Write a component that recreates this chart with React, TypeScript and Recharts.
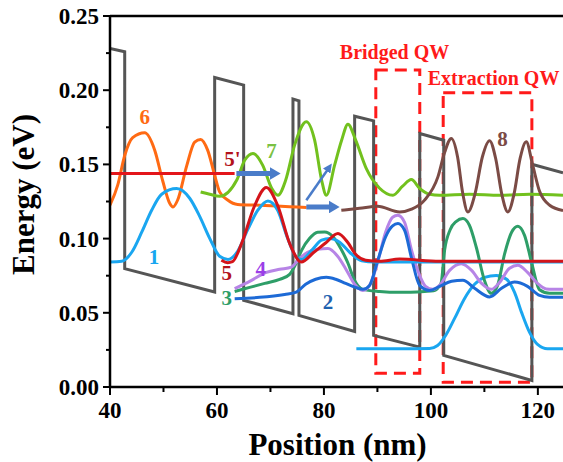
import { LineChart, Line, XAxis, YAxis, ReferenceArea, ReferenceDot, ReferenceLine } from 'recharts';

const FONT = '"Liberation Serif", "Times New Roman", serif';

// axis ticks
const xTicks = [40, 50, 60, 70, 80, 90, 100, 110, 120];
const yTicks = [0, 0.025, 0.05, 0.075, 0.1, 0.125, 0.15, 0.175, 0.2, 0.225, 0.25];

// conduction band edge (nm, eV)
const bandX = [40, 42.75, 42.75, 59.57, 59.57, 64.99, 64.99, 74.21, 74.21, 75.33, 75.33, 85.74, 85.74, 89.29, 89.29, 97.92, 97.92, 102.4, 102.4, 118.88, 118.88, 124.7];
const bandE = [0.2282, 0.2259, 0.0798, 0.064, 0.2086, 0.2034, 0.0584, 0.0494, 0.194, 0.1928, 0.0482, 0.0374, 0.1825, 0.1793, 0.0348, 0.0269, 0.1708, 0.1663, 0.0213, 0.0044, 0.1501, 0.1443];

// state 1 (upper branch) and its lower partner in the extraction well
const s1X = [40, 42.19, 44.06, 45.93, 47.79, 49.66, 52.47, 54.9, 56.77, 58.64, 60.5, 62.06, 63.87, 65.74, 67.61, 69.53, 71.35, 73.21, 74.71, 75.83, 77.7, 79.57, 81.07, 82.94, 84.81, 87.05, 89.48, 94.15, 103.5, 112.84, 124.7];
const s1E = [0.0842, 0.0847, 0.0908, 0.1043, 0.1191, 0.1299, 0.1337, 0.1272, 0.115, 0.1002, 0.0881, 0.086, 0.0915, 0.106, 0.119, 0.1254, 0.1191, 0.1002, 0.0881, 0.086, 0.0921, 0.0989, 0.1, 0.0975, 0.0908, 0.085, 0.0842, 0.0842, 0.0842, 0.0842, 0.0842];
const s1bX = [86.06, 94.15, 99.76, 101.25, 102.75, 104.43, 106.3, 108.17, 110.04, 112.22, 114.15, 115.64, 116.95, 118.45, 119.94, 121.81, 124.7];
const s1bE = [0.0258, 0.0258, 0.026, 0.028, 0.0347, 0.0462, 0.0597, 0.0692, 0.0739, 0.0752, 0.0726, 0.0638, 0.0503, 0.0368, 0.0287, 0.0258, 0.0258];

// state 2
const s2X = [63.31, 67.98, 72.65, 74.84, 76.58, 78.45, 80.45, 82.19, 84.06, 85.93, 87.29, 88.54, 90.04, 91.53, 92.84, 93.83, 95.08, 96.39, 97.89, 99.76, 101.63, 103.87, 105.98, 108.17, 110.97, 113.21, 115.64, 118.07, 120.32, 122.19, 124.7];
const s2E = [0.0595, 0.0604, 0.0624, 0.064, 0.0692, 0.0726, 0.0739, 0.0726, 0.0698, 0.0671, 0.0658, 0.0685, 0.085, 0.1012, 0.1086, 0.1101, 0.1056, 0.0867, 0.0685, 0.0651, 0.0678, 0.0712, 0.0719, 0.0665, 0.0607, 0.0665, 0.0707, 0.0678, 0.0617, 0.0604, 0.0604];

// state 3
const s3X = [63.31, 66.11, 68.92, 71.72, 73.59, 74.71, 75.83, 77.33, 78.82, 80.13, 81.63, 83.12, 84.43, 85.74, 87.24, 90.41, 94.15, 98.82, 100.5, 101.9, 102.56, 103.6, 104.7, 105.98, 107.2, 108.5, 110.0, 111.29, 112.47, 113.78, 115.09, 116.26, 117.51, 118.82, 120.32, 122.19, 124.7];
const s3E = [0.0644, 0.0671, 0.0698, 0.0725, 0.0759, 0.0827, 0.0921, 0.1002, 0.1043, 0.1045, 0.1016, 0.0935, 0.084, 0.0718, 0.0658, 0.0644, 0.0638, 0.0644, 0.0648, 0.07, 0.0921, 0.106, 0.1115, 0.1135, 0.109, 0.094, 0.072, 0.0631, 0.0685, 0.0897, 0.1043, 0.1083, 0.1022, 0.084, 0.0655, 0.0631, 0.0631];

// state 4
const s4X = [63.31, 66.11, 69.23, 71.72, 73.91, 75.46, 76.95, 78.82, 80.75, 82.56, 84.19, 85.74, 87.29, 88.54, 90.04, 91.53, 92.84, 93.83, 95.08, 96.39, 97.89, 99.01, 100.37, 101.63, 103.5, 105.68, 107.61, 109.48, 111.29, 112.84, 114.71, 116.26, 118.07, 119.94, 121.57, 124.7];
const s4E = [0.0663, 0.0712, 0.0772, 0.0793, 0.0808, 0.0867, 0.0908, 0.0928, 0.0933, 0.0881, 0.0789, 0.0692, 0.0651, 0.0685, 0.084, 0.1043, 0.1144, 0.1157, 0.111, 0.0921, 0.0752, 0.0678, 0.0658, 0.0685, 0.0786, 0.0831, 0.0786, 0.0698, 0.0658, 0.0705, 0.08, 0.082, 0.0772, 0.0698, 0.0661, 0.0658];

// state 5 and the injector level 5'
const s5X = [60.82, 62.0, 62.9, 64.6, 67.0, 69.23, 71.4, 73.6, 75.78, 78.06, 80.3, 82.62, 84.43, 85.93, 87.8, 90.41, 94.15, 101.63, 112.84, 124.7];
const s5E = [0.0854, 0.0838, 0.0845, 0.0966, 0.1218, 0.1344, 0.1218, 0.0966, 0.0842, 0.0906, 0.097, 0.1034, 0.0975, 0.0894, 0.0854, 0.0847, 0.0862, 0.0847, 0.0847, 0.0847];
const s5pX = [40, 63.3];
const s5pE = [0.1439, 0.1439];

// state 6
const s6X = [40, 41.44, 42.75, 44.24, 46.49, 48.36, 49.85, 51.16, 51.78, 52.65, 54.34, 55.83, 56.95, 58.26, 59.57, 60.5, 62.0, 63.87, 67.98, 73.59, 76.77];
const s6E = [0.1225, 0.136, 0.156, 0.168, 0.1713, 0.1596, 0.139, 0.1238, 0.1213, 0.126, 0.149, 0.165, 0.1668, 0.1596, 0.1427, 0.1315, 0.126, 0.123, 0.1225, 0.1215, 0.121];

// state 7
const s7X = [56.95, 58.64, 60.5, 63.68, 65.18, 66.73, 68.54, 70.23, 71.4, 72.84, 74.52, 76.71, 78.26, 79.57, 80.45, 82.0, 83.31, 84.49, 85.93, 87.93, 90.41, 92.9, 94.71, 96.34, 97.89, 99.76, 101.63, 107.24, 112.84, 118.45, 124.7];
const s7E = [0.1314, 0.1299, 0.1285, 0.1393, 0.1528, 0.1574, 0.1495, 0.1339, 0.1292, 0.1393, 0.163, 0.1787, 0.1663, 0.1393, 0.1292, 0.1495, 0.1663, 0.1771, 0.1663, 0.1471, 0.1339, 0.1292, 0.1353, 0.1398, 0.1339, 0.1299, 0.1292, 0.1299, 0.1292, 0.1299, 0.1292];

// state 8
const s8X = [83.25, 86.67, 90.04, 94.15, 96.39, 98.82, 101.31, 102.56, 103.81, 104.99, 105.93, 106.92, 108.27, 109.62, 110.97, 112.11, 113.25, 114.39, 115.54, 116.68, 117.83, 119.0, 120.3, 122.2, 124.7];
const s8E = [0.1191, 0.1204, 0.1218, 0.1179, 0.1198, 0.1259, 0.1416, 0.158, 0.1675, 0.155, 0.131, 0.118, 0.1305, 0.155, 0.166, 0.154, 0.13, 0.118, 0.13, 0.154, 0.1652, 0.15, 0.132, 0.1225, 0.119];

// transfer arrows
const arrowAX = [63.63, 70.04];
const arrowAE = [0.1439, 0.1439];
const arrowBX = [76.71, 81.07];
const arrowBE = [0.1213, 0.1213];
const arrowCX = [76.71, 80.62];
const arrowCE = [0.1258, 0.1461];

// dashed well boxes [x1, x2, e1, e2]
const bridgedBox = [89.7, 97.92, 0.0093, 0.2136];
const extractionBox = [102.3, 118.88, 0.0032, 0.1982];

const pts = (xs: number[], es: number[]) => xs.map((x, i) => ({ x, e: es[i] }));

const notes = [
  { text: '6', x: 46.49, e: 0.1818, color: '#ff6a13', size: 21 },
  { text: "5'", x: 62.9, e: 0.1535, color: '#b3121b', size: 21 },
  { text: '7', x: 70.2, e: 0.1589, color: '#7ac143', size: 21 },
  { text: '1', x: 48.22, e: 0.0874, color: '#18a6f0', size: 21 },
  { text: '5', x: 61.81, e: 0.0766, color: '#b3121b', size: 21 },
  { text: '4', x: 68.17, e: 0.0797, color: '#9b3ee8', size: 21 },
  { text: '3', x: 61.81, e: 0.0597, color: '#2e9e68', size: 21 },
  { text: '2', x: 80.75, e: 0.057, color: '#1e62b0', size: 21 },
  { text: '8', x: 113.4, e: 0.167, color: '#7b4b45', size: 21 },
  { text: 'Bridged QW', x: 93.21, e: 0.2257, color: '#ff1a1a', size: 20 },
  { text: 'Extraction QW', x: 111.72, e: 0.2081, color: '#ff1a1a', size: 20 },
];

const XTick = (props: any) => {
  const { x, y, payload } = props;
  const major = payload.value % 20 === 0;
  return (
    <g>
      <line x1={x} x2={x} y1={y} y2={y + (major ? 8 : 5)} stroke="#000" strokeWidth={2} />
      {major && (
        <text x={x} y={y + 31} textAnchor="middle" fontFamily={FONT} fontWeight="bold" fontSize={23} fill="#000">
          {payload.value}
        </text>
      )}
    </g>
  );
};

const YTick = (props: any) => {
  const { x, y, payload } = props;
  const major = Math.round(payload.value * 1000) % 50 === 0;
  return (
    <g>
      <line x1={x - (major ? 7 : 4)} x2={x} y1={y} y2={y} stroke="#000" strokeWidth={2} />
      {major && (
        <text x={x - 11} y={y + 8} textAnchor="end" fontFamily={FONT} fontWeight="bold" fontSize={23} fill="#000">
          {payload.value.toFixed(2)}
        </text>
      )}
    </g>
  );
};

const noteLabel = (text: string, color: string, size: number) => ({
  content: (p: any) => {
    const vb = p.viewBox || {};
    const cx = (vb.x ?? 0) + (vb.width ?? 0) / 2;
    const cy = (vb.y ?? 0) + (vb.height ?? 0) / 2;
    return (
      <text x={cx} y={cy} textAnchor="middle" dominantBaseline="central" fontFamily={FONT} fontWeight="bold" fontSize={size} fill={color}>
        {text}
      </text>
    );
  },
});

const curves = [
  { key: 's6', xs: s6X, es: s6E, color: '#ff6a13' },
  { key: 's5p', xs: s5pX, es: s5pE, color: '#e3161b' },
  { key: 's7', xs: s7X, es: s7E, color: '#72c11e' },
  { key: 's8', xs: s8X, es: s8E, color: '#7b4b45' },
  { key: 's1b', xs: s1bX, es: s1bE, color: '#1aa6f0' },
  { key: 's3', xs: s3X, es: s3E, color: '#2e9e68' },
  { key: 's4', xs: s4X, es: s4E, color: '#b784e6' },
  { key: 's2', xs: s2X, es: s2E, color: '#1d6ad6' },
  { key: 's1', xs: s1X, es: s1E, color: '#1aa6f0' },
  { key: 's5', xs: s5X, es: s5E, color: '#d4141a' },
];

export default function App() {
  return (
    <div style={{ position: 'absolute', left: 0, top: 0, background: '#fff' }}>
      <LineChart width={563} height={462} margin={{ top: 16, right: 0, bottom: 0, left: 0 }}>
        <defs>
          <marker id="headBig" markerWidth="11" markerHeight="13" refX="1" refY="6.5" orient="auto" markerUnits="userSpaceOnUse">
            <path d="M0,0 L11,6.5 L0,13 z" fill="#4a7cc9" />
          </marker>
          <marker id="headSmall" markerWidth="9" markerHeight="9" refX="1" refY="4.5" orient="auto" markerUnits="userSpaceOnUse">
            <path d="M0,0 L9,4.5 L0,9 z" fill="#4a7cc9" />
          </marker>
        </defs>
        <XAxis
          dataKey="x"
          type="number"
          domain={[40, 124.7]}
          allowDataOverflow
          ticks={xTicks}
          interval={0}
          height={75}
          tickSize={0}
          tickMargin={0}
          tickLine={false}
          tick={<XTick />}
          axisLine={{ stroke: '#000', strokeWidth: 2.5 }}
          label={{
            content: (p: any) => {
              const vb = p.viewBox;
              return (
                <text x={vb.x + vb.width / 2 + 1} y={vb.y + 57} textAnchor="middle" dominantBaseline="central" fontFamily={FONT} fontWeight="bold" fontSize={31}>
                  Position (nm)
                </text>
              );
            },
          }}
        />
        <YAxis
          dataKey="e"
          type="number"
          domain={[0, 0.25]}
          allowDataOverflow
          ticks={yTicks}
          interval={0}
          width={110}
          tickSize={0}
          tickMargin={0}
          tickLine={false}
          tick={<YTick />}
          axisLine={{ stroke: '#000', strokeWidth: 2.5 }}
          label={{
            content: (p: any) => {
              const vb = p.viewBox;
              const cx = vb.x + 23;
              const cy = vb.y + vb.height / 2 - 7;
              return (
                <text x={cx} y={cy} transform={`rotate(-90, ${cx}, ${cy})`} textAnchor="middle" dominantBaseline="central" fontFamily={FONT} fontWeight="bold" fontSize={31}>
                  Energy (eV)
                </text>
              );
            },
          }}
        />
        <ReferenceLine y={0.25} stroke="#000" strokeWidth={2.5} />

        {/* conduction band */}
        <Line data={pts(bandX, bandE)} dataKey="e" type="linear" stroke="#555555" strokeWidth={3} dot={false} isAnimationActive={false} />

        {curves.map((c) => (
          <Line key={c.key} data={pts(c.xs, c.es)} dataKey="e" type="monotone" stroke={c.color} strokeWidth={3} dot={false} isAnimationActive={false} />
        ))}

        {/* transfer arrows */}
        <Line data={pts(arrowAX, arrowAE)} dataKey="e" type="linear" stroke="#4a7cc9" strokeWidth={5} dot={false} markerEnd="url(#headBig)" isAnimationActive={false} />
        <Line data={pts(arrowBX, arrowBE)} dataKey="e" type="linear" stroke="#4a7cc9" strokeWidth={5} dot={false} markerEnd="url(#headBig)" isAnimationActive={false} />
        <Line data={pts(arrowCX, arrowCE)} dataKey="e" type="linear" stroke="#4a7cc9" strokeWidth={2.5} dot={false} markerEnd="url(#headSmall)" isAnimationActive={false} />

        {/* bridged and extraction wells */}
        <ReferenceArea x1={bridgedBox[0]} x2={bridgedBox[1]} y1={bridgedBox[2]} y2={bridgedBox[3]} fill="none" fillOpacity={0} stroke="#ff1a1a" strokeWidth={3} strokeDasharray="12 7" />
        <ReferenceArea x1={extractionBox[0]} x2={extractionBox[1]} y1={extractionBox[2]} y2={extractionBox[3]} fill="none" fillOpacity={0} stroke="#ff1a1a" strokeWidth={3} strokeDasharray="12 7" />

        {notes.map((n) => (
          <ReferenceDot key={n.text} x={n.x} y={n.e} r={1} fill="none" stroke="none" label={noteLabel(n.text, n.color, n.size)} />
        ))}
      </LineChart>
    </div>
  );
}
